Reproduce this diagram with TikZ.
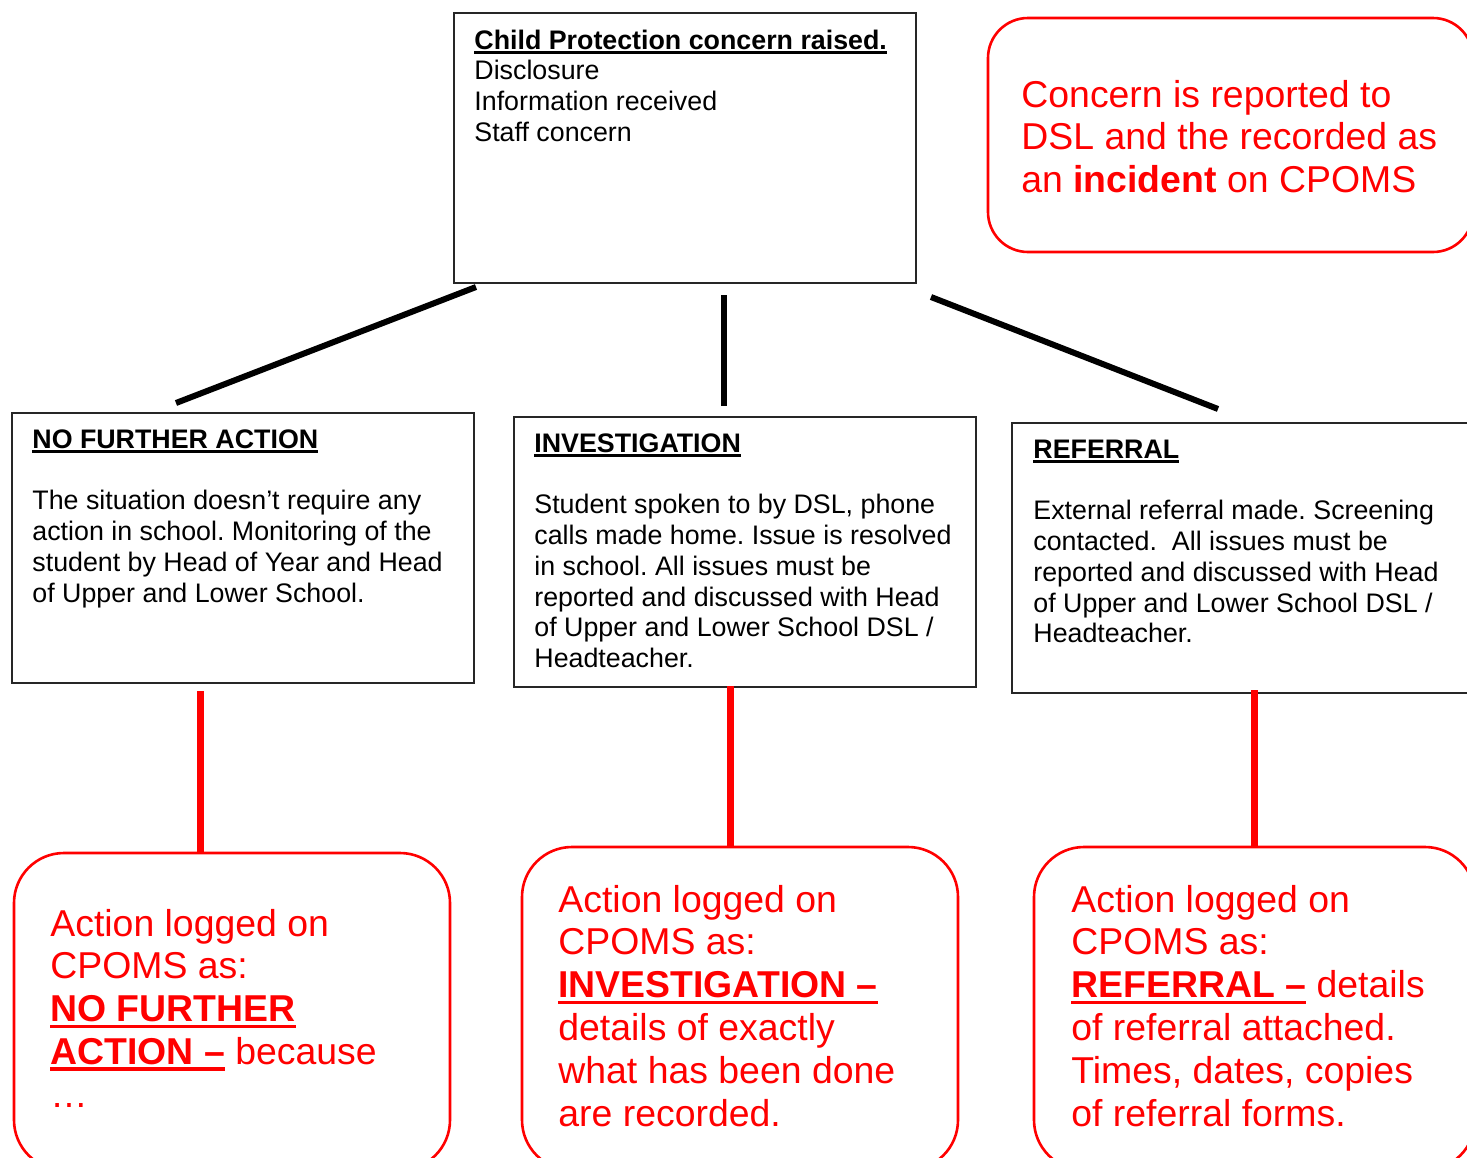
\documentclass[tikz,border=0pt]{standalone}
\usepackage{fontspec}
\setmainfont{Liberation Sans}
\frenchspacing
\newsavebox\ulbox
\newcommand\myul[1]{\sbox\ulbox{#1}\rlap{\rule[-0.17em]{\wd\ulbox}{0.09em}}\usebox\ulbox}
\newcommand\blines[1]{\begin{tabular}[t]{@{}l@{}}#1\end{tabular}}
\tikzset{
  bbox/.style={draw=black!85, line width=0.75pt, rectangle, inner sep=0pt, minimum width=231pt, minimum height=135pt},
  rbox/.style={draw=red, line width=1.3pt, rectangle, rounded corners=25pt, inner sep=0pt},
  btext/.style={anchor=base west, inner sep=0pt, font=\fontsize{13.4}{15.4}\selectfont\frenchspacing, text=black},
  rtext/.style={anchor=base west, inner sep=0pt, font=\fontsize{18.7}{21.4}\selectfont\frenchspacing, text=red},
  bline/.style={line width=3pt, black},
  rline/.style={line width=3.5pt, red}
}
\begin{document}
\begin{tikzpicture}[x=0.5pt,y=-0.5pt]
\path[use as bounding box] (0,0) rectangle (1467,1157);
\clip (0,0) rectangle (1467,1157);
% black boxes
\node[bbox] (top) at (685,148) {};
\node[bbox] (nfa) at (243,548) {};
\node[bbox] (inv) at (745,552) {};
\node[bbox] (ref) at (1243,558) {};
% red boxes
\node[rbox, rounded corners=20pt, minimum width=242.5pt, minimum height=117pt] (inc) at (1230.5,135) {};
\node[rbox, minimum width=218pt, minimum height=158.5pt] (rnfa) at (232,1011.5) {};
\node[rbox, minimum width=218pt, minimum height=161.5pt] (rinv) at (740,1008.5) {};
\node[rbox, minimum width=220.5pt, minimum height=161.5pt] (rref) at (1254.5,1008.5) {};
% texts
\node[btext] (ttop) at (474,49) {\blines{\textbf{\myul{Child Protection concern raised.}}\\Disclosure\\Information received\\Staff concern}};
\node[btext] (tnfa) at (32,448) {\blines{\textbf{\myul{NO FURTHER ACTION}}\\ \\The situation doesn’t require any\\action in school. Monitoring of the\\student by Head of Year and Head\\of Upper and Lower School.}};
\node[btext] (tinv) at (534,452) {\blines{\textbf{\myul{INVESTIGATION}}\\ \\Student spoken to by DSL, phone\\calls made home. Issue is resolved\\in school. All issues must be\\reported and discussed with Head\\of Upper and Lower School DSL /\\Headteacher.}};
\node[btext] (tref) at (1033,458) {\blines{\textbf{\myul{REFERRAL}}\\ \\External referral made. Screening\\contacted.\ \ All issues must be\\reported and discussed with Head\\of Upper and Lower School DSL /\\Headteacher.}};
\node[rtext] (tinc) at (1021,107) {\blines{Concern is reported to\\DSL and the recorded as\\an \textbf{incident} on CPOMS}};
\node[rtext] (trnfa) at (50,936) {\blines{Action logged on\\CPOMS as:\\\textbf{\myul{NO FURTHER}}\\\textbf{\myul{ACTION –}} because\\…}};
\node[rtext] (trinv) at (558,912) {\blines{Action logged on\\CPOMS as:\\\textbf{\myul{INVESTIGATION –}}\\details of exactly\\what has been done\\are recorded.}};
\node[rtext] (trref) at (1071,912) {\blines{Action logged on\\CPOMS as:\\\textbf{\myul{REFERRAL –}} details\\of referral attached.\\Times, dates, copies\\of referral forms.}};
% connectors
\coordinate (a1) at (476,287); \coordinate (b1) at (176,403);
\coordinate (a2) at (724,295); \coordinate (b2) at (724,406);
\coordinate (a3) at (931,297); \coordinate (b3) at (1218,409);
\draw[bline] (a1) -- (b1);
\draw[bline] (a2) -- (b2);
\draw[bline] (a3) -- (b3);
\coordinate (c1) at (200,691); \coordinate (d1) at (200,852);
\coordinate (c2) at (730,686); \coordinate (d2) at (730,846);
\coordinate (c3) at (1254,690); \coordinate (d3) at (1254,846);
\draw[rline] (c1) -- (d1);
\draw[rline] (c2) -- (d2);
\draw[rline] (c3) -- (d3);
\end{tikzpicture}
\end{document}
